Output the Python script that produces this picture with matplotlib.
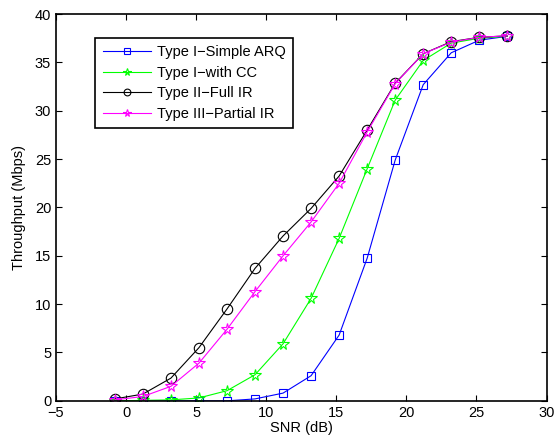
import numpy as np
import matplotlib
matplotlib.use("Agg")
import matplotlib.pyplot as plt

plt.rcParams['font.family'] = ['Liberation Sans', 'DejaVu Sans']

snr = [-0.8, 1.2, 3.2, 5.2, 7.2, 9.2, 11.2, 13.2, 15.2, 17.2, 19.2, 21.2, 23.2, 25.2, 27.2]

simple_arq = [0.0, 0.0, 0.0, 0.0, 0.0, 0.2, 0.8, 2.6, 6.8, 14.75, 24.9, 32.7, 36.0, 37.3, 37.7]
with_cc    = [0.0, 0.05, 0.1, 0.3, 1.05, 2.7, 5.9, 10.6, 16.8, 24.0, 31.1, 35.2, 37.0, 37.5, 37.7]
full_ir    = [0.2, 0.7, 2.35, 5.5, 9.5, 13.7, 17.05, 19.9, 23.25, 28.0, 32.85, 35.9, 37.15, 37.6, 37.75]
partial_ir = [0.1, 0.45, 1.5, 3.9, 7.4, 11.3, 15.0, 18.5, 22.5, 27.8, 32.8, 35.9, 37.1, 37.6, 37.75]

labels = ['Type I\u2212Simple ARQ', 'Type I\u2212with CC', 'Type II\u2212Full IR', 'Type III\u2212Partial IR']

fig = plt.figure(figsize=(5.6, 4.4), dpi=100)
ax = fig.add_axes([0.1, 0.089, 0.876, 0.879])

ax.plot(snr, simple_arq, color='#0000ff', marker='s', ms=6, mfc='none', mew=0.8, lw=0.8, label=labels[0])
ax.plot(snr, with_cc, color='#00ff00', marker='*', ms=8.5, mfc='none', mew=0.8, lw=0.8, label=labels[1])
ax.plot(snr, full_ir, color='black', marker='o', ms=7.5, mfc='none', mew=0.8, lw=0.8, label=labels[2])
ax.plot(snr, partial_ir, color='#ff00ff', marker='*', ms=8.5, mfc='none', mew=0.8, lw=0.8, label=labels[3])

ax.set_xlim(-5, 30)
ax.set_ylim(0, 40)
ax.set_xticks(np.arange(-5, 31, 5))
ax.set_yticks(np.arange(0, 41, 5))
ax.tick_params(direction='in', top=True, right=True, labelsize=10.5, length=4)
for s in ax.spines.values():
    s.set_linewidth(1.2)
ax.set_xlabel('SNR (dB)', fontsize=10.5, labelpad=1)
ax.set_ylabel('Throughput (Mbps)', fontsize=10.5, labelpad=6)

leg = ax.legend(loc='upper left', bbox_to_anchor=(0.08, 0.938), borderaxespad=0,
                fontsize=10.5, handlelength=3.3, markerscale=0.65, fancybox=False,
                framealpha=1, edgecolor='black', borderpad=0.5, labelspacing=0.45,
                handletextpad=0.45)
leg.get_frame().set_linewidth(1.2)

fig.savefig('out.png', dpi=100)
